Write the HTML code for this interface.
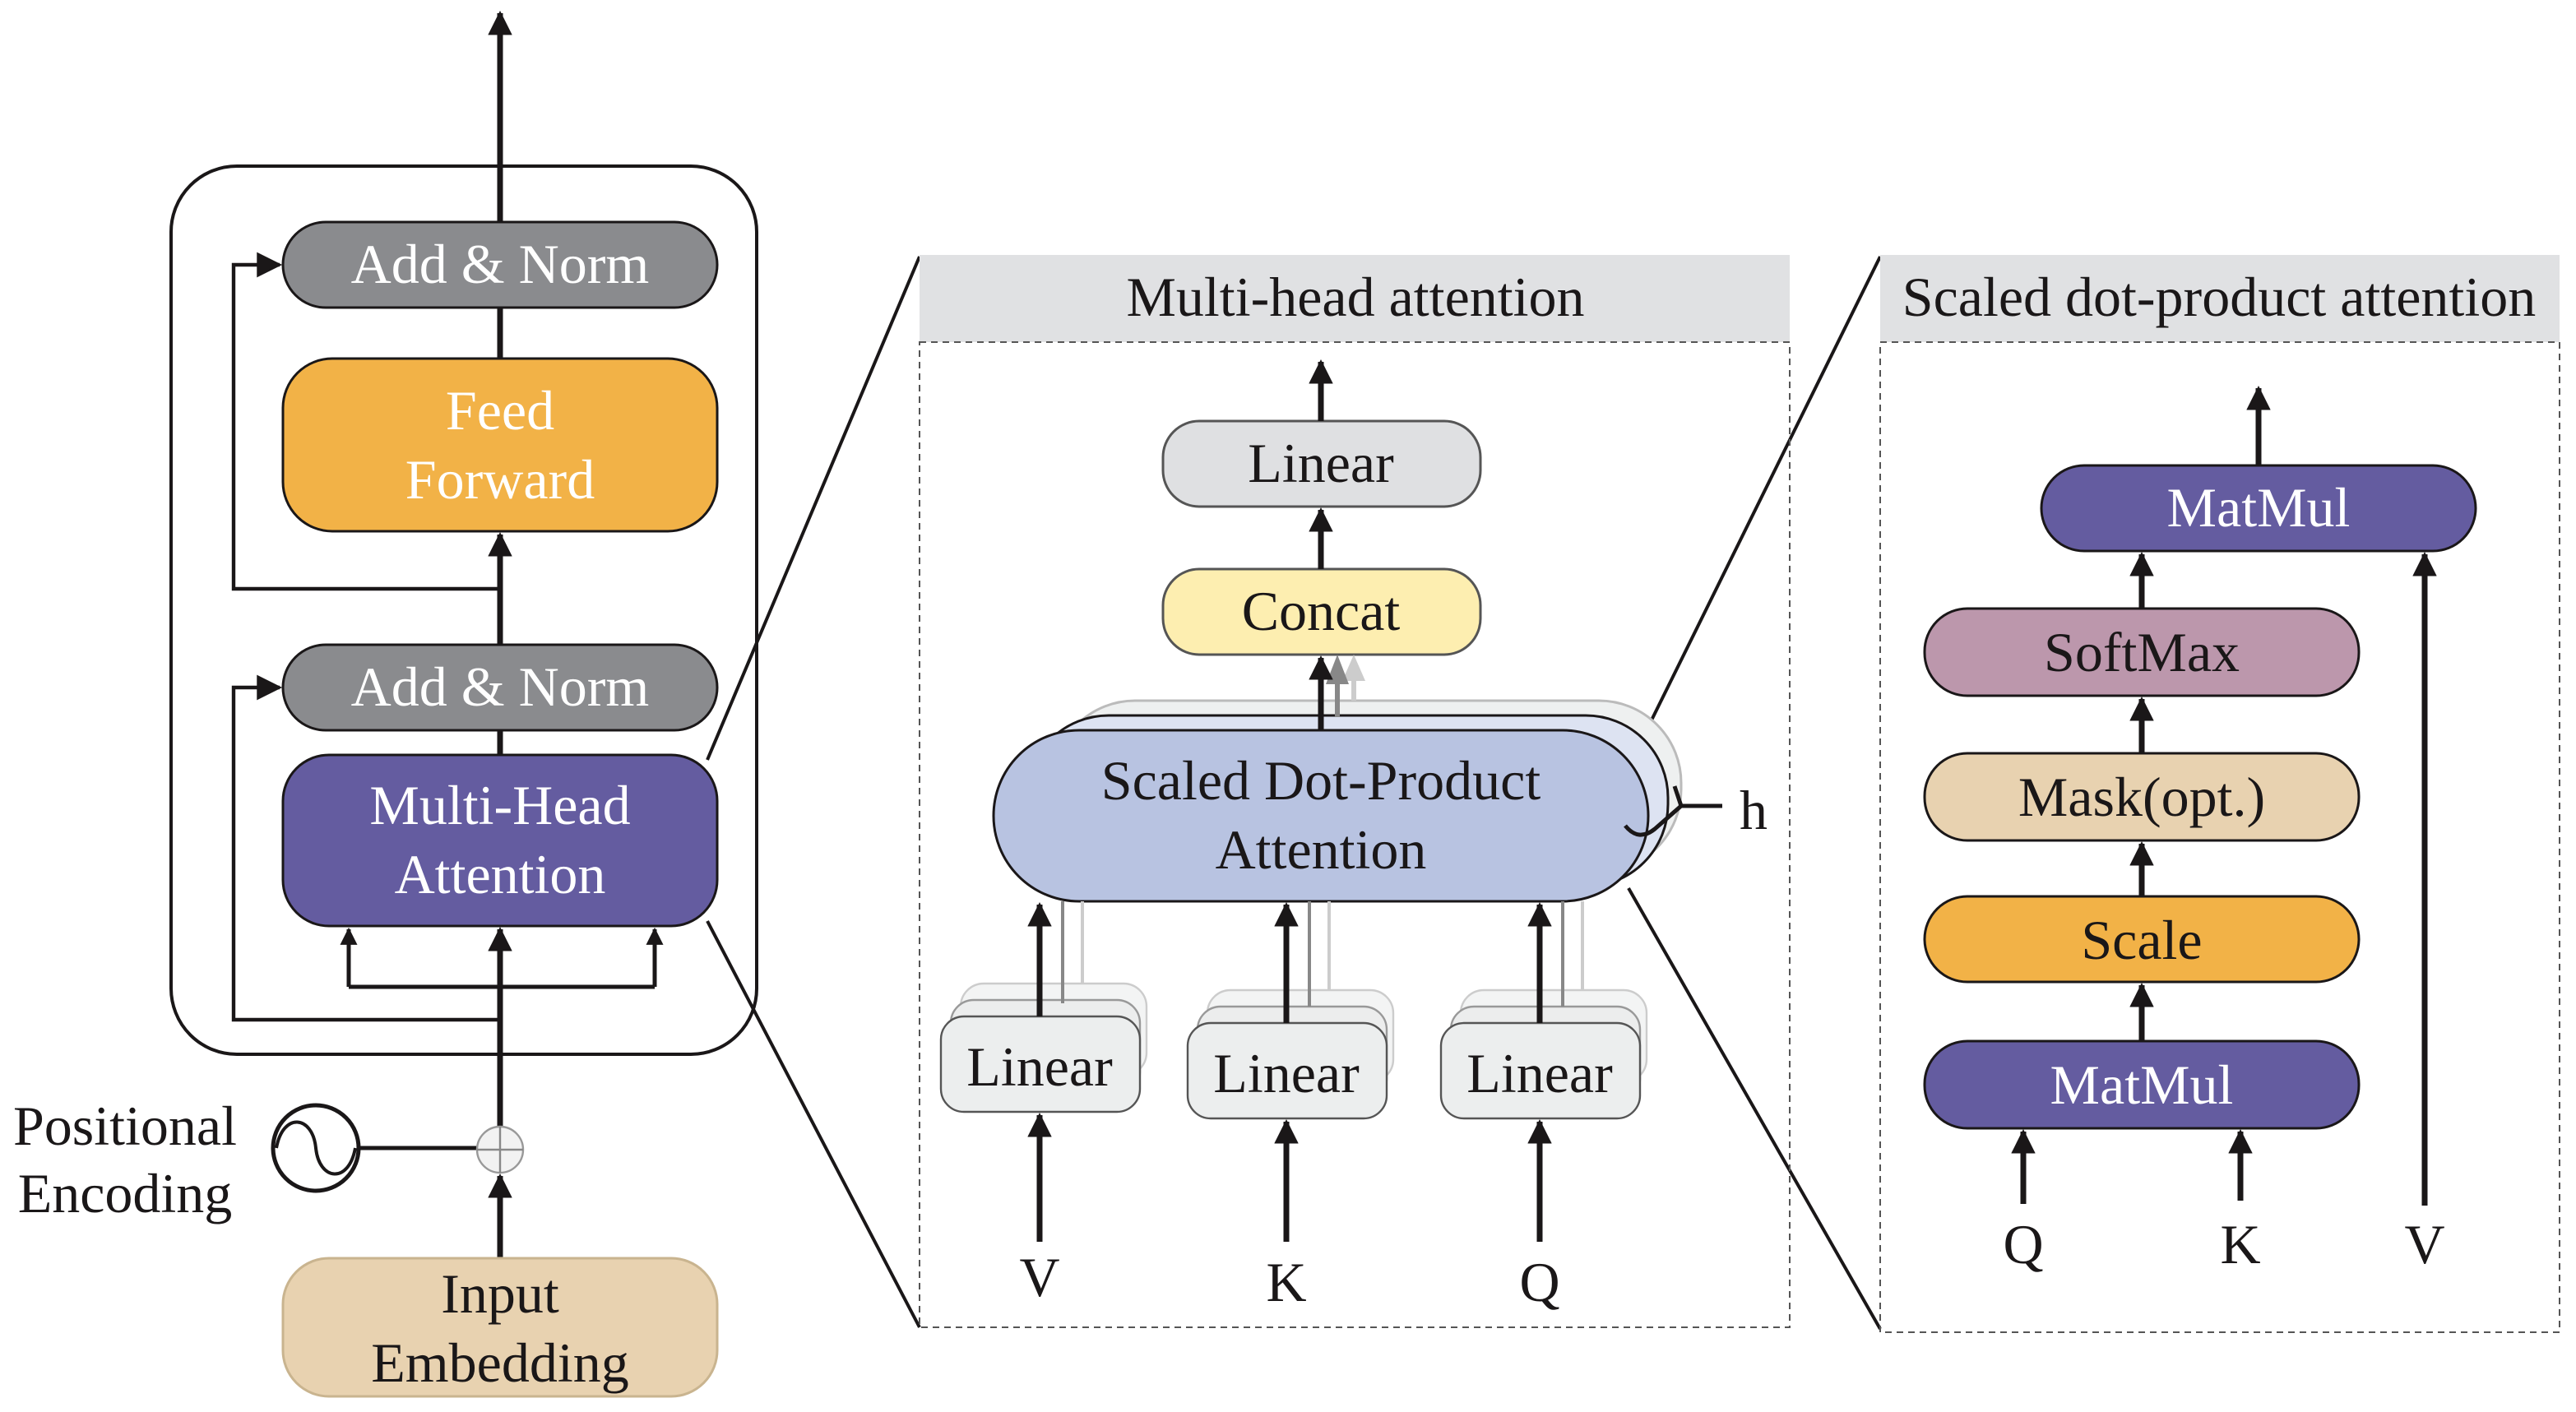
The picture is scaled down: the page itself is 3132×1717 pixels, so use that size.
<!DOCTYPE html>
<html><head><style>
html,body{margin:0;padding:0;background:#fff;}
svg{display:block;}
text{font-family:"Liberation Serif",serif;}
</style></head><body>
<svg width="3132" height="1717" viewBox="0 0 1566 858.5" xmlns="http://www.w3.org/2000/svg">
<defs>
<marker id="a" viewBox="0 0 10 10" refX="9" refY="5" markerWidth="5" markerHeight="4.2" markerUnits="strokeWidth" orient="auto"><path d="M0,0L10,5L0,10z" fill="#1a1718"/></marker>
<marker id="b" viewBox="0 0 10 10" refX="9" refY="5" markerWidth="8" markerHeight="7" markerUnits="strokeWidth" orient="auto"><path d="M0,0L10,5L0,10z" fill="#1a1718"/></marker>
</defs>
<rect width="1566" height="858.5" fill="#fff"/>
<g stroke="#1a1718" stroke-width="2" fill="none">
<line x1="430" y1="462" x2="559" y2="156"/>
<line x1="430" y1="560" x2="559" y2="807"/>
<line x1="998" y1="450" x2="1143" y2="156"/>
<line x1="990" y1="540" x2="1143" y2="808"/>
</g>
<rect x="104" y="101" width="356" height="540" rx="40" fill="none" stroke="#1a1718" stroke-width="2"/>
<g stroke="#1a1718" stroke-width="2.5" fill="none">
<polyline points="304,358 142,358 142,161 170,161" marker-end="url(#b)" stroke-width="2.2"/>
<polyline points="304,620 142,620 142,418 170,418" marker-end="url(#b)" stroke-width="2.2"/>
<polyline points="212,600 398,600" stroke-width="2.5"/>
<line x1="212" y1="600" x2="212" y2="565" marker-end="url(#a)"/>
<line x1="398" y1="600" x2="398" y2="565" marker-end="url(#a)"/>
<line x1="304" y1="765" x2="304" y2="715" stroke-width="3.5" marker-end="url(#a)"/>
<line x1="304" y1="685" x2="304" y2="565" stroke-width="3.5" marker-end="url(#a)"/>
<line x1="304" y1="459" x2="304" y2="444" stroke-width="3.5"/>
<line x1="304" y1="392" x2="304" y2="325" stroke-width="3.5" marker-end="url(#a)"/>
<line x1="304" y1="218" x2="304" y2="187" stroke-width="3.5"/>
<line x1="304" y1="135" x2="304" y2="8" stroke-width="3.5" marker-end="url(#a)"/>
<line x1="219" y1="698" x2="290" y2="698" stroke-width="2.5"/>
</g>
<circle cx="304" cy="699" r="14" fill="#f2f2f2" stroke="#999" stroke-width="1.2"/>
<line x1="290" y1="699" x2="318" y2="699" stroke="#888" stroke-width="1.2"/><line x1="304" y1="685" x2="304" y2="713" stroke="#888" stroke-width="1.2"/>
<circle cx="192" cy="698" r="26" fill="#fff" stroke="#1a1718" stroke-width="2.5"/>
<path d="M168,698 C172,676 190,678 192,698 C194,718 212,720 216,698" fill="none" stroke="#1a1718" stroke-width="2"/>
<g stroke="#1a1718" stroke-width="1.5">
<rect x="172" y="135" width="264" height="52" rx="26" fill="#8a8b8e"/>
<rect x="172" y="218" width="264" height="105" rx="30" fill="#f2b247"/>
<rect x="172" y="392" width="264" height="52" rx="26" fill="#8a8b8e"/>
<rect x="172" y="459" width="264" height="104" rx="28" fill="#645ca0"/>
<rect x="172" y="765" width="264" height="84" rx="28" fill="#e8d2b0" stroke="#c9b48f"/>
</g>
<g font-size="34" text-anchor="middle" fill="#fff">
<text x="304" y="172">Add &amp; Norm</text>
<text x="304" y="261">Feed</text><text x="304" y="303">Forward</text>
<text x="304" y="429">Add &amp; Norm</text>
<text x="304" y="501">Multi-Head</text><text x="304" y="543">Attention</text>
</g>
<g font-size="34" text-anchor="middle" fill="#1a1718">
<text x="304" y="798">Input</text><text x="304" y="840">Embedding</text>
<text x="76" y="696">Positional</text><text x="76" y="737">Encoding</text>
</g>
<rect x="559" y="155" width="529" height="53" fill="#e0e1e3"/>
<rect x="559" y="208" width="529" height="599" fill="none" stroke="#555" stroke-width="1" stroke-dasharray="4,3"/>
<text x="824" y="192" font-size="34" text-anchor="middle" fill="#1a1718">Multi-head attention</text>
<g stroke-width="1.5">
<rect x="640" y="426" width="382" height="104" rx="50" fill="#eef0f0" stroke="#bbb"/>
<rect x="624" y="435" width="390" height="104" rx="50" fill="#dde3f2" stroke="#1a1718"/>
<rect x="604" y="444" width="398" height="104" rx="52" fill="#b8c3e1" stroke="#1a1718"/>
<rect x="707" y="256" width="193" height="52" rx="22" fill="#dfe0e2" stroke="#555"/>
<rect x="707" y="346" width="193" height="52" rx="22" fill="#fdeeb0" stroke="#555"/>
</g>
<g stroke-width="1.2">
<rect x="584" y="598" width="113" height="56" rx="14" fill="#f3f4f4" stroke="#ccc"/>
<rect x="578" y="608" width="115" height="58" rx="14" fill="#eceded" stroke="#999"/>
<rect x="572" y="618" width="121" height="58" rx="14" fill="#eceeee" stroke="#555"/>
<rect x="734" y="602" width="113" height="56" rx="14" fill="#f3f4f4" stroke="#ccc"/>
<rect x="728" y="612" width="115" height="58" rx="14" fill="#eceded" stroke="#999"/>
<rect x="722" y="622" width="121" height="58" rx="14" fill="#eceeee" stroke="#555"/>
<rect x="888" y="602" width="113" height="56" rx="14" fill="#f3f4f4" stroke="#ccc"/>
<rect x="882" y="612" width="115" height="58" rx="14" fill="#eceded" stroke="#999"/>
<rect x="876" y="622" width="121" height="58" rx="14" fill="#eceeee" stroke="#555"/>
</g>
<g stroke-width="2">
<line x1="646" y1="548" x2="646" y2="610" stroke="#888"/><line x1="658" y1="548" x2="658" y2="598" stroke="#ccc"/>
<line x1="796" y1="548" x2="796" y2="612" stroke="#888"/><line x1="808" y1="548" x2="808" y2="602" stroke="#ccc"/>
<line x1="950" y1="548" x2="950" y2="612" stroke="#888"/><line x1="962" y1="548" x2="962" y2="602" stroke="#ccc"/>
<line x1="823" y1="426" x2="823" y2="402" stroke="#ccc" stroke-width="3"/><path d="M816,414 L823,398 L830,414z" fill="#ccc"/>
<line x1="813" y1="436" x2="813" y2="410" stroke="#888" stroke-width="3"/><path d="M806,416 L813,398 L820,416z" fill="#888"/>
</g>
<g stroke="#1a1718" stroke-width="3.5" fill="none">
<line x1="803" y1="444" x2="803" y2="400" marker-end="url(#a)"/>
<line x1="803" y1="346" x2="803" y2="310" marker-end="url(#a)"/>
<line x1="803" y1="256" x2="803" y2="220" marker-end="url(#a)"/>
<line x1="632" y1="618" x2="632" y2="550" marker-end="url(#a)"/>
<line x1="782" y1="622" x2="782" y2="550" marker-end="url(#a)"/>
<line x1="936" y1="622" x2="936" y2="550" marker-end="url(#a)"/>
<line x1="632" y1="755" x2="632" y2="678" marker-end="url(#a)"/>
<line x1="782" y1="755" x2="782" y2="682" marker-end="url(#a)"/>
<line x1="936" y1="755" x2="936" y2="682" marker-end="url(#a)"/>
</g>
<path d="M988,502 Q996,512 1006,504 L1022,490 L1018,478 M1022,490 L1047,490" fill="none" stroke="#1a1718" stroke-width="2.5"/>
<g font-size="34" text-anchor="middle" fill="#1a1718">
<text x="803" y="293">Linear</text>
<text x="803" y="383">Concat</text>
<text x="803" y="486">Scaled Dot-Product</text>
<text x="803" y="528">Attention</text>
<text x="632" y="660">Linear</text>
<text x="782" y="664">Linear</text>
<text x="936" y="664">Linear</text>
<text x="632" y="788">V</text><text x="782" y="791">K</text><text x="936" y="791">Q</text>
<text x="1066" y="504">h</text>
</g>
<rect x="1143" y="155" width="413" height="53" fill="#e0e1e3"/>
<rect x="1143" y="208" width="413" height="602" fill="none" stroke="#555" stroke-width="1" stroke-dasharray="4,3"/>
<text x="1349" y="192" font-size="34" text-anchor="middle" fill="#1a1718">Scaled dot-product attention</text>
<g stroke="#1a1718" stroke-width="1.5">
<rect x="1241" y="283" width="264" height="52" rx="26" fill="#645ca0"/>
<rect x="1170" y="370" width="264" height="53" rx="26" fill="#bc97ac"/>
<rect x="1170" y="458" width="264" height="53" rx="26" fill="#e8d2b0"/>
<rect x="1170" y="545" width="264" height="52" rx="26" fill="#f2b247"/>
<rect x="1170" y="633" width="264" height="53" rx="26" fill="#645ca0"/>
</g>
<g stroke="#1a1718" stroke-width="3.5" fill="none">
<line x1="1373" y1="283" x2="1373" y2="236" marker-end="url(#a)"/>
<line x1="1302" y1="370" x2="1302" y2="337" marker-end="url(#a)"/>
<line x1="1302" y1="458" x2="1302" y2="425" marker-end="url(#a)"/>
<line x1="1302" y1="545" x2="1302" y2="513" marker-end="url(#a)"/>
<line x1="1302" y1="633" x2="1302" y2="599" marker-end="url(#a)"/>
<line x1="1230" y1="732" x2="1230" y2="688" marker-end="url(#a)"/>
<line x1="1362" y1="730" x2="1362" y2="688" marker-end="url(#a)"/>
<line x1="1474" y1="733" x2="1474" y2="337" marker-end="url(#a)"/>
</g>
<g font-size="34" text-anchor="middle">
<text x="1373" y="320" fill="#fff">MatMul</text>
<text x="1302" y="408" fill="#1a1718">SoftMax</text>
<text x="1302" y="496" fill="#1a1718">Mask(opt.)</text>
<text x="1302" y="583" fill="#1a1718">Scale</text>
<text x="1302" y="671" fill="#fff">MatMul</text>
<text x="1230" y="768" fill="#1a1718">Q</text>
<text x="1362" y="768" fill="#1a1718">K</text>
<text x="1474" y="768" fill="#1a1718">V</text>
</g>
</svg>
</body></html>
